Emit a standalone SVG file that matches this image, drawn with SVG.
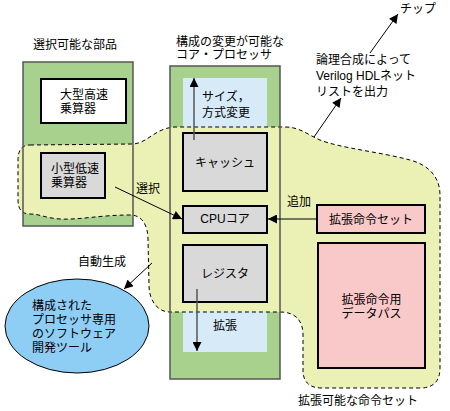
<svg xmlns="http://www.w3.org/2000/svg" width="450" height="411" viewBox="0 0 450 411">
<defs>
<marker id="ah" viewBox="0 0 10 10" refX="10" refY="5" markerUnits="userSpaceOnUse" markerWidth="10" markerHeight="9" orient="auto">
<path d="M0,0 L10,5 L0,10 z" fill="#000"/>
</marker>
<marker id="ahg" viewBox="0 0 10 10" refX="10" refY="5" markerUnits="userSpaceOnUse" markerWidth="10" markerHeight="9" orient="auto">
<path d="M0,0 L10,5 L0,10 z" fill="#000"/>
</marker>
</defs>
<style>
text{font-family:"Liberation Sans","Noto Sans CJK JP",sans-serif;font-size:12px;fill:#000}
.mid{text-anchor:middle}
.panel{fill:#a9d18e}
.pborder{fill:none;stroke:#555;stroke-width:1.5}
.lblue{fill:#d7eaf8}
.blob{fill:#ebf0b4;stroke:#000;stroke-width:1;stroke-dasharray:4,3}
.box{stroke:#000;stroke-width:2}
.gray{fill:#d9d9d9}
.pink{fill:#f9c9c9}
.conn{stroke:#000;stroke-width:1;fill:none}
.connG{stroke:#555;stroke-width:1.5;fill:none}
</style>
<g id="backgrounds">
<rect class="panel" x="23" y="62" width="110" height="164"/>
<rect class="panel" x="170" y="66" width="110" height="313"/>
<rect class="lblue" x="183" y="78" width="84" height="60"/>
<rect class="lblue" x="183" y="300" width="84" height="52"/>
</g>
<g id="blob">
<path class="blob" d="M30,145 L133,144 C148,143 155,128 175,127 L285,127 C300,127 308,135 320,140 C340,148 380,152 410,160 C432,166 440,180 440,195 L440,368 Q440,388 420,388 L322,388 Q303,388 303,370 L303,335 C303,320 295,312 280,312 L170,312 C157,312 149,300 149,285 L148,240 C148,225 142,215 130,215 C100,215 80,220 60,219 C45,218 40,214 30,214 Q18,214 18,200 L18,160 Q18,145 30,145 Z"/>
</g>
<g id="panel-borders">
<rect class="pborder" x="23" y="62" width="110" height="164"/>
<rect class="pborder" x="170" y="66" width="110" height="313"/>
</g>
<g id="labels">
<text x="33" y="49">選択可能な部品</text>
<text x="176" y="45.5">構成の変更が可能な</text>
<text x="176" y="58.5">コア・プロセッサ</text>
<text x="202" y="101">サイズ，</text>
<text x="202" y="117">方式変更</text>
<text x="136" y="193">選択</text>
<text x="287" y="206">追加</text>
<text x="213" y="330">拡張</text>
<text x="298" y="405">拡張可能な命令セット</text>
<text x="78" y="266">自動生成</text>
<text x="316" y="64">論理合成によって</text>
<text x="316" y="80">Verilog HDLネット</text>
<text x="316" y="96">リストを出力</text>
<text x="400" y="13">チップ</text>
</g>
<g id="node-large-mult">
<rect class="box" x="41" y="79" width="85" height="44" fill="#fff"/>
<text x="60" y="99">大型高速</text>
<text x="60" y="113">乗算器</text>
</g>
<g id="node-small-mult">
<rect class="box gray" x="41" y="153" width="64" height="45"/>
<text x="51" y="173">小型低速</text>
<text x="51" y="187">乗算器</text>
</g>
<g id="node-cache">
<rect class="box gray" x="183" y="133" width="84" height="58"/>
<text class="mid" x="225" y="167">キャッシュ</text>
</g>
<g id="node-cpu">
<rect class="box gray" x="183" y="206" width="84" height="27"/>
<text class="mid" x="225" y="223">CPUコア</text>
</g>
<g id="node-register">
<rect class="box gray" x="183" y="245" width="84" height="57"/>
<text class="mid" x="225" y="278">レジスタ</text>
</g>
<g id="node-ext-inst">
<rect class="box pink" x="317" y="205" width="108" height="28"/>
<text class="mid" x="371" y="224">拡張命令セット</text>
</g>
<g id="node-ext-datapath">
<rect class="box pink" x="318" y="243" width="107" height="125"/>
<text class="mid" x="371.5" y="304">拡張命令用</text>
<text class="mid" x="371.5" y="318">データパス</text>
</g>
<g id="node-tools">
<ellipse cx="77" cy="326" rx="72" ry="47" fill="#8ecdf4" stroke="#000" stroke-width="1"/>
<text x="32" y="310">構成された</text>
<text x="32" y="324">プロセッサ専用</text>
<text x="32" y="338">のソフトウェア</text>
<text x="32" y="352">開発ツール</text>
</g>
<g id="connectors">
<line class="conn" x1="115" y1="187" x2="182" y2="219" marker-end="url(#ah)"/>
<line class="conn" x1="317" y1="219" x2="268" y2="219" marker-end="url(#ah)"/>
<line class="connG" x1="194" y1="140" x2="194" y2="78" marker-end="url(#ahg)"/>
<line class="connG" x1="197" y1="289" x2="197" y2="351" marker-end="url(#ahg)"/>
<line class="conn" x1="152" y1="263" x2="124" y2="289" marker-end="url(#ah)"/>
<line class="conn" x1="314" y1="137" x2="341" y2="98" marker-end="url(#ah)"/>
<line class="conn" x1="370" y1="53" x2="398" y2="14" marker-end="url(#ah)"/>
</g>
</svg>
